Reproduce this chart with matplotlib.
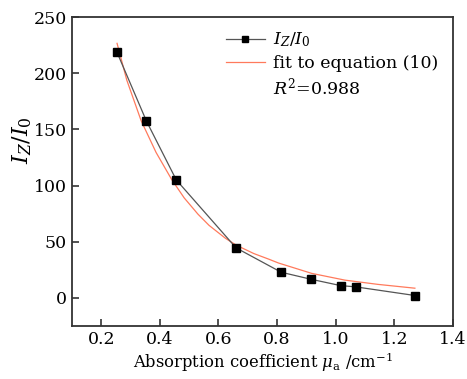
import matplotlib.pyplot as plt
import matplotlib.lines as mlines

# measured points
mu_a = [0.254, 0.354, 0.456, 0.66, 0.814, 0.915, 1.017, 1.068, 1.27]
ratio = [218.5, 157.5, 105.0, 44.5, 22.8, 16.6, 10.9, 9.8, 2.1]

# fit curve
fit_x = [0.254, 0.287, 0.336, 0.387, 0.44, 0.483, 0.53, 0.568, 0.624, 0.66,
         0.72, 0.771, 0.805, 0.918, 1.031, 1.144, 1.27]
fit_y = [226.6, 194, 157.8, 129.5, 105.5, 89, 74.5, 64.5, 53, 47,
         39.5, 34.5, 31, 21.8, 15.8, 12, 8.6]

xticks = [0.2, 0.4, 0.6, 0.8, 1.0, 1.2, 1.4]
yticks = [0, 50, 100, 150, 200, 250]

plt.rcParams['font.family'] = 'DejaVu Serif'
plt.rcParams['mathtext.fontset'] = 'dejavuserif'

fig = plt.figure(figsize=(4.67, 3.79), dpi=100)
ax = fig.add_axes([0.154, 0.140, 0.816, 0.815])

ax.plot(mu_a, ratio, color='#555555', linewidth=0.9, marker='s',
        markersize=5.2, markerfacecolor='black', markeredgecolor='black',
        zorder=3)
ax.plot(fit_x, fit_y, color='#ff7a5c', linewidth=0.9, zorder=2)

ax.set_xlim(0.1, 1.4)
ax.set_ylim(-25, 250)
ax.set_xticks(xticks)
ax.set_xticklabels(['%.1f' % v for v in xticks])
ax.set_yticks(yticks)

for s in ax.spines.values():
    s.set_color('#333333')
    s.set_linewidth(1.3)
ax.tick_params(direction='in', length=5, width=1.2, color='#333333',
               labelsize=12.5, top=False, right=False)

ax.set_xlabel(r'Absorption coefficient $\mu_\mathrm{a}$ /cm$^{-1}$',
              fontsize=11.8, labelpad=2)
ax.set_ylabel(r'$I_Z/I_0$', fontsize=16)
ax.yaxis.set_label_coords(-0.10, 0.6)

h1 = mlines.Line2D([], [], color='#555555', linewidth=0.9, marker='s',
                   markersize=4.5, markerfacecolor='black', markeredgecolor='black')
h2 = mlines.Line2D([], [], color='#ff7a5c', linewidth=0.9)
h3 = mlines.Line2D([], [], color='none')
ax.legend([h1, h2, h3], [r'$I_Z/I_0$', 'fit to equation (10)', r'$R^2$=0.988'],
          loc='upper left', bbox_to_anchor=(0.387, 0.978), frameon=False,
          fontsize=12.5, handlelength=2.2, handletextpad=0.5,
          labelspacing=0.3, borderaxespad=0)

fig.savefig('out.png', dpi=100)
